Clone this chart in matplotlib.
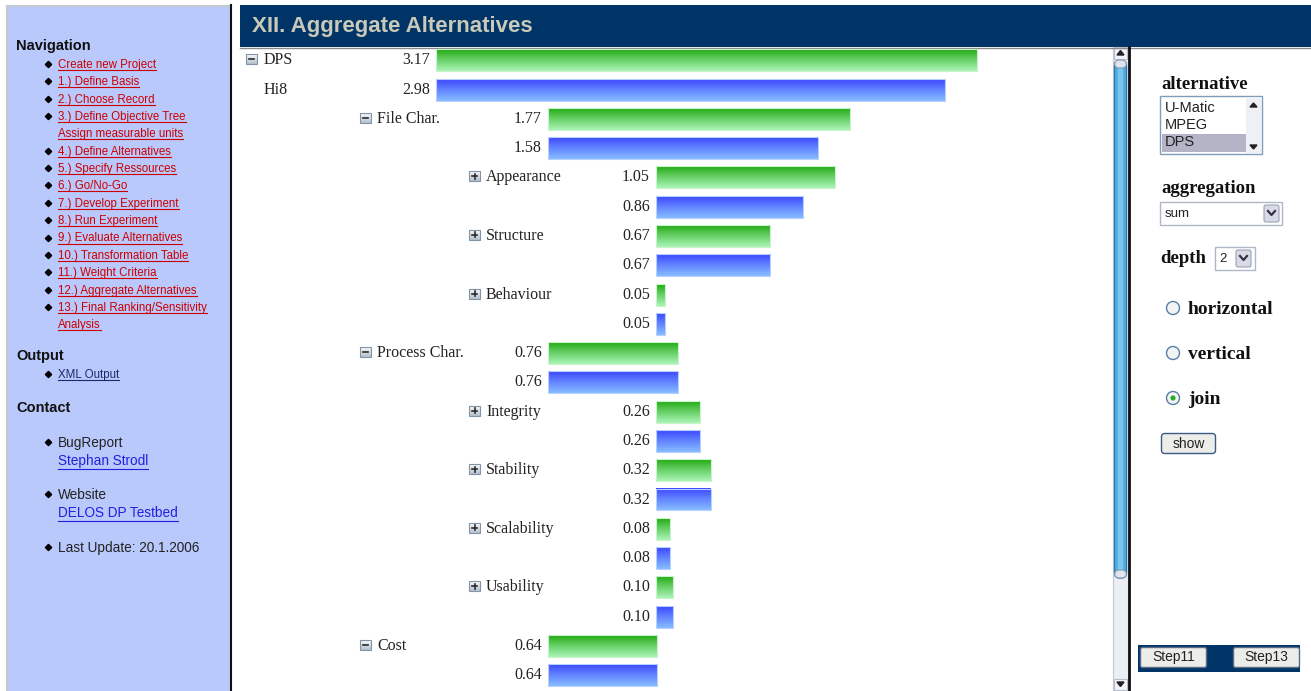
import matplotlib
matplotlib.use("Agg")
import matplotlib.pyplot as plt
import numpy as np
from matplotlib.patches import Rectangle, FancyBboxPatch, Circle, Polygon
from matplotlib.colors import to_rgb

# ---------------- data ----------------
criteria = ["DPS", "File Char.", "Appearance", "Structure", "Behaviour",
            "Process Char.", "Integrity", "Stability", "Scalability",
            "Usability", "Cost"]
depth_level = [0, 1, 2, 2, 2, 1, 2, 2, 2, 2, 1]
expander = ["minus", "minus", "plus", "plus", "plus", "minus",
            "plus", "plus", "plus", "plus", "minus"]
dps_values = [3.17, 1.77, 1.05, 0.67, 0.05, 0.76, 0.26, 0.32, 0.08, 0.10, 0.64]
hi8_values = [2.98, 1.58, 0.86, 0.67, 0.05, 0.76, 0.26, 0.32, 0.08, 0.10, 0.64]
second_alt = "Hi8"

page_title = "XII. Aggregate Alternatives"
nav_links = ["Create new Project", "1.) Define Basis", "2.) Choose Record",
             "3.) Define Objective Tree", "Assign measurable units",
             "4.) Define Alternatives", "5.) Specify Ressources", "6.) Go/No-Go",
             "7.) Develop Experiment", "8.) Run Experiment",
             "9.) Evaluate Alternatives", "10.) Transformation Table",
             "11.) Weight Criteria", "12.) Aggregate Alternatives",
             "13.) Final Ranking/Sensitivity", "Analysis"]
nav_bullet = [True, True, True, True, False, True, True, True, True, True,
              True, True, True, True, True, False]
alt_list = ["U-Matic", "MPEG", "DPS"]
radio_opts = ["horizontal", "vertical", "join"]

# ---------------- layout ----------------
W, H = 1311, 691
fig = plt.figure(figsize=(W / 100, H / 100), dpi=100)
fig.patch.set_facecolor("white")
bg = fig.add_axes([0, 0, 1, 1])
bg.set_xlim(0, W)
bg.set_ylim(H, 0)
bg.axis("off")


def px_axes(x0, y0, x1, y1):
    return fig.add_axes([x0 / W, 1 - y1 / H, (x1 - x0) / W, (y1 - y0) / H])


ROW0, ROW_STEP = 60.3, 29.28
CH_TOP, CH_BOTTOM, CH_RIGHT = 46.0, 691.0, 1110.0
PX_PER_UNIT = 170.7
BAR_LEFT = [436, 548, 656]
NAME_X = [264, 377, 486]
ICON_X = [246, 360, 469]
BAR_H = 0.75
SERIF = "Liberation Serif"
SANS = "Liberation Sans"

# ---------------- left panel ----------------
bg.add_patch(Rectangle((7, 5), 223, H, facecolor="#b9c9fc", edgecolor="none"))
bg.plot([7, 230], [5.5, 5.5], color="#c8c8c8", lw=1.2)
bg.plot([7, 7], [5.5, H], color="#c8c8c8", lw=1.5)
bg.plot([230.5, 230.5], [5, H], color="#111111", lw=1.5)

bg.text(16, 46, "Navigation", fontsize=10.5, fontweight="bold",
        family=SANS, color="#111111", va="center")
nav_texts = []
y = 65
for lab, bul in zip(nav_links, nav_bullet):
    if bul:
        bg.plot(48, y - 1, marker="D", ms=3.2, color="black")
    nav_texts.append(bg.text(58, y, lab, fontsize=8.3, family=SANS,
                             color="#cc0000", va="center"))
    y += 17.35

bg.text(16, 356, "Output", fontsize=10.5, fontweight="bold", family=SANS,
        color="#111111", va="center")
bg.plot(48, 374, marker="D", ms=3.2, color="black")
nav_texts.append(bg.text(58, 375, "XML Output", fontsize=8.3, family=SANS,
                         color="#1a2a6a", va="center"))
bg.text(16, 408, "Contact", fontsize=10.5, fontweight="bold", family=SANS,
        color="#111111", va="center")

contact = [("BugReport", "Stephan Strodl", 443), ("Website", "DELOS DP Testbed", 495)]
link_texts = []
for head, link, yy in contact:
    bg.plot(48, yy - 1, marker="D", ms=3.2, color="black")
    bg.text(58, yy, head, fontsize=9.8, family=SANS, color="#222222", va="center")
    link_texts.append(bg.text(58, yy + 18, link, fontsize=9.8, family=SANS,
                              color="#2020e0", va="center"))
bg.plot(48, 547, marker="D", ms=3.2, color="black")
bg.text(58, 548, "Last Update: 20.1.2006", fontsize=9.8, family=SANS,
        color="#222222", va="center")

fig.canvas.draw()
r = fig.canvas.get_renderer()
inv = bg.transData.inverted()
for t, off in [(t, 5.0) for t in nav_texts] + [(t, 7.5) for t in link_texts]:
    bb = t.get_window_extent(r)
    (x0, _), (x1, _) = inv.transform([(bb.x0, bb.y0), (bb.x1, bb.y0)])
    yy = t.get_position()[1] + off
    bg.plot([x0, x1], [yy, yy], color=t.get_color(), lw=0.8)

# ---------------- title bar ----------------
bg.add_patch(Rectangle((240, 5), W - 240, 42, facecolor="#003366", edgecolor="none"))
bg.plot([240, W], [47.5, 47.5], color="#8a8a8a", lw=1.0)
bg.text(252, 26, page_title, fontsize=16, fontweight="bold", family=SANS,
        color="#c9c9b9", va="center")

# ---------------- bars ----------------
green_top, green_bot = to_rgb("#1fa80f"), to_rgb("#aaf4b6")
blue_top, blue_bot = to_rgb("#3a44ff"), to_rgb("#86bcff")


def gradient(c_top, c_bot, n=64, gamma=1.0):
    t = (np.linspace(0, 1, n) ** gamma)[:, None]
    g = (1 - t) * np.array(c_top) + t * np.array(c_bot)
    return g[:, None, :]


level_axes = []
for L in range(3):
    ax = px_axes(BAR_LEFT[L], CH_TOP, CH_RIGHT, CH_BOTTOM)
    ax.axis("off")
    level_axes.append(ax)

for L, ax in enumerate(level_axes):
    idx = [i for i in range(len(criteria)) if depth_level[i] == L]
    rows_a = [2 * i for i in idx]
    rows_b = [2 * i + 1 for i in idx]
    vals_a = [dps_values[i] for i in idx]
    vals_b = [hi8_values[i] for i in idx]
    for rows, vals, (ct, cb), ec in ((rows_a, vals_a, (green_top, green_bot), "#c8f4cc"),
                                     (rows_b, vals_b, (blue_top, blue_bot), "#b8d0ff")):
        bars = ax.barh(rows, vals, height=BAR_H, left=0, color="none",
                       edgecolor=ec, linewidth=0.8, zorder=3)
        for p, row, v in zip(bars.patches, rows, vals):
            x0, y0, w, h = p.get_x(), p.get_y(), p.get_width(), p.get_height()
            ax.imshow(gradient(ct, cb, gamma=0.9), extent=(x0, x0 + w, y0 + h, y0),
                      origin="upper", aspect="auto", interpolation="bilinear",
                      zorder=2)
            ax.annotate(f"{v:.2f}", xy=(0, row), xytext=(-6, 0),
                        textcoords="offset pixels", ha="right", va="center",
                        fontsize=11.5, family=SERIF, color="#222222",
                        annotation_clip=False)
    for i in idx:
        ax.annotate(criteria[i], xy=(0, 2 * i), xytext=(NAME_X[L] - BAR_LEFT[L], 0),
                    textcoords="offset pixels", ha="left", va="center",
                    fontsize=11.5, family=SERIF, color="#222222",
                    annotation_clip=False)
    if L == 0:
        ax.annotate(second_alt, xy=(0, 1), xytext=(NAME_X[0] - BAR_LEFT[0], 0),
                    textcoords="offset pixels", ha="left", va="center",
                    fontsize=11.5, family=SERIF, color="#222222",
                    annotation_clip=False)
    ax.set_xlim(0, (CH_RIGHT - BAR_LEFT[L]) / PX_PER_UNIT)
    ax.set_ylim((CH_BOTTOM - ROW0) / ROW_STEP, (CH_TOP - ROW0) / ROW_STEP)

# expander icons
for i, kind in enumerate(expander):
    cy = ROW0 + ROW_STEP * 2 * i - 1
    cx = ICON_X[depth_level[i]]
    bg.imshow(gradient(to_rgb("#fafbfc"), to_rgb("#b4c0cc")),
              extent=(cx, cx + 11, cy + 5, cy - 5), aspect="auto", zorder=4)
    bg.add_patch(Rectangle((cx, cy - 5), 11, 10, facecolor="none",
                           edgecolor="#8494a8", lw=0.8, zorder=5))
    bg.plot([cx + 3, cx + 8], [cy, cy], color="#2a2a2a", lw=1.2, zorder=6)
    if kind == "plus":
        bg.plot([cx + 5.5, cx + 5.5], [cy - 2.5, cy + 2.5], color="#2a2a2a", lw=1.2, zorder=6)
bg.set_xlim(0, W)
bg.set_ylim(H, 0)

# ---------------- scrollbar ----------------
bg.add_patch(Rectangle((1113, 47), 15, H - 47, facecolor="#eceef6", edgecolor="#c4c8d4", lw=0.8))
bg.add_patch(Rectangle((1114, 48), 13, 11, facecolor="#f4f4f8", edgecolor="#b8bccc", lw=0.8))
bg.add_patch(Polygon([(1117, 55), (1124, 55), (1120.5, 50.5)], closed=True, color="#222222"))
bg.add_patch(FancyBboxPatch((1114.5, 61), 12, 517, boxstyle="round,pad=0,rounding_size=5",
                            facecolor="#55aee2", edgecolor="#2a78b0", lw=1.0))
bg.add_patch(Rectangle((1118, 68), 5, 505, facecolor="#7cc6ee", edgecolor="none"))
bg.add_patch(FancyBboxPatch((1114.5, 60), 12, 8, boxstyle="round,pad=0,rounding_size=5",
                            facecolor="#dfe4ee", edgecolor="#8a9ab0", lw=0.8))
bg.add_patch(FancyBboxPatch((1114.5, 570), 12, 8, boxstyle="round,pad=0,rounding_size=5",
                            facecolor="#dfe4ee", edgecolor="#8a9ab0", lw=0.8))
bg.add_patch(Rectangle((1114, 679), 13, 11, facecolor="#f4f4f8", edgecolor="#b8bccc", lw=0.8))
bg.add_patch(Polygon([(1117, 682), (1124, 682), (1120.5, 686.5)], closed=True, color="#222222"))
bg.plot([1129, 1129], [47, H], color="#111111", lw=2.0)

# ---------------- right control panel ----------------
bg.text(1161, 84, "alternative", fontsize=13.5, fontweight="bold", family=SERIF,
        color="#111111", va="center")
bg.add_patch(Rectangle((1160, 96), 102, 58, facecolor="white", edgecolor="#7f9db9", lw=1.0))
bg.add_patch(Rectangle((1162, 134), 84, 18, facecolor="#b4b4c6", edgecolor="none"))
for k, a in enumerate(alt_list):
    bg.text(1165, 108 + 17 * k, a, fontsize=10.5, family=SANS, color="#222222", va="center")
bg.add_patch(Rectangle((1246, 97), 15, 56, facecolor="#eef0f6", edgecolor="none"))
bg.add_patch(Polygon([(1250, 107), (1257, 107), (1253.5, 103)], closed=True, color="#222222"))
bg.add_patch(Polygon([(1250, 145), (1257, 145), (1253.5, 149)], closed=True, color="#222222"))

bg.text(1161, 188, "aggregation", fontsize=13.5, fontweight="bold", family=SERIF,
        color="#111111", va="center")
bg.add_patch(Rectangle((1160, 202), 122, 23, facecolor="white", edgecolor="#b0b8c8", lw=1.0))
bg.text(1165, 214, "sum", fontsize=9.5, family=SANS, color="#222222", va="center")
bg.add_patch(FancyBboxPatch((1264, 205), 15, 17, boxstyle="round,pad=0,rounding_size=2",
                            facecolor="#d8dae6", edgecolor="#9aa2b8", lw=0.8))
bg.plot([1268, 1271.5, 1275], [211, 215, 211], color="#333344", lw=1.6)

bg.text(1160, 258, "depth", fontsize=13.5, fontweight="bold", family=SERIF,
        color="#111111", va="center")
bg.add_patch(Rectangle((1215, 247), 40, 23, facecolor="white", edgecolor="#b0b8c8", lw=1.0))
bg.text(1219, 259, "2", fontsize=9.5, family=SANS, color="#222222", va="center")
bg.add_patch(FancyBboxPatch((1236, 250), 15, 17, boxstyle="round,pad=0,rounding_size=2",
                            facecolor="#d8dae6", edgecolor="#9aa2b8", lw=0.8))
bg.plot([1240, 1243.5, 1247], [256, 260, 256], color="#333344", lw=1.6)

for k, opt in enumerate(radio_opts):
    cy = [308, 353, 398][k]
    bg.add_patch(Circle((1173, cy), 6.5, facecolor="#f2f4f6", edgecolor="#5a7ea6", lw=1.0))
    if opt == "join":
        bg.add_patch(Circle((1173, cy), 2.6, facecolor="#28b028", edgecolor="none"))
    bg.text(1188, cy + 1, opt, fontsize=14, fontweight="bold", family=SERIF,
            color="#111111", va="center")

bg.add_patch(FancyBboxPatch((1161.5, 433.5), 54, 20, boxstyle="round,pad=0,rounding_size=3",
                            facecolor="#ecece8", edgecolor="#3c5a88", lw=1.0))
bg.text(1188.5, 444, "show", fontsize=10, family=SANS, color="#222222",
        va="center", ha="center")

bg.add_patch(Rectangle((1138, 645), 162, 27, facecolor="#003366", edgecolor="none"))
for lab, x0 in (("Step11", 1140), ("Step13", 1233)):
    bg.add_patch(FancyBboxPatch((x0 + 0.5, 647.5), 66, 20, boxstyle="round,pad=0,rounding_size=2",
                                facecolor="#ecece8", edgecolor="#5a6a88", lw=1.0))
    bg.text(x0 + 33.5, 657.5, lab, fontsize=10, family=SANS, color="#222222",
            va="center", ha="center")

fig.savefig("out.png", dpi=100, facecolor="white")
